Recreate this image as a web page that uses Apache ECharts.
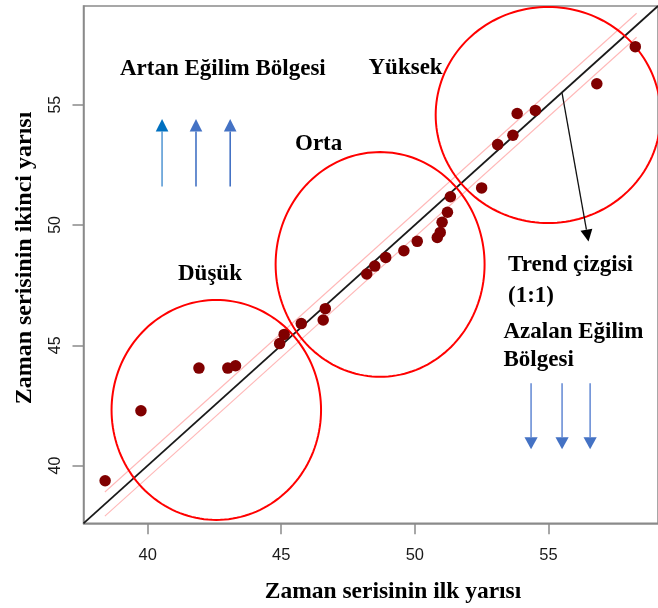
<!DOCTYPE html>
<html>
<head>
<meta charset="utf-8">
<script src="https://cdn.jsdelivr.net/npm/echarts@6/dist/echarts.min.js"></script>
<style>
html,body{margin:0;padding:0;background:#fff;}
#chart{width:658px;height:608px;}
</style>
</head>
<body>
<div id="chart"></div>
<script>
// ---- data ----
const xTickValues = [40, 45, 50, 55];
const yTickValues = [40, 45, 50, 55];
const axisRange = [37.6, 59.1];

// first half (x) and second half (y) of the time series
const firstHalf = [38.41, 39.75, 41.92, 43.00, 43.29, 44.94, 45.11, 45.75, 46.57, 46.65,
                   48.20, 48.50, 48.91, 49.59, 50.09, 50.84, 50.95, 51.02, 51.22, 51.33,
                   52.50, 53.10, 53.67, 53.83, 54.51, 56.81, 58.25];
const secondHalf = [39.37, 42.28, 44.05, 44.05, 44.15, 45.07, 45.45, 45.90, 46.05, 46.52,
                    47.96, 48.29, 48.65, 48.93, 49.32, 49.48, 49.69, 50.11, 50.53, 51.17,
                    51.54, 53.34, 53.73, 54.63, 54.76, 55.87, 57.41];

// 1:1 trend line and the two bands around it
const trendLineX = [37.6, 59.1];
const bandX = [38.4, 58.3];
const bandOffset = 0.5;

// group circles (centre and radii in data units)
const groupNames = ['Düşük', 'Orta', 'Yüksek'];
const groupCenterX = [42.57, 48.70, 54.99];
const groupCenterY = [42.31, 48.36, 54.57];
const groupRadiusX = [3.92, 3.91, 4.21];
const groupRadiusY = [4.57, 4.67, 4.49];

// arrows: [x start, y start, x tip, y tip]
const upArrows = [[40.54, 51.60, 40.54, 54.40], [41.81, 51.60, 41.81, 54.40], [43.09, 51.60, 43.09, 54.40]];
const downArrows = [[54.35, 43.42, 54.35, 40.68], [55.51, 43.42, 55.51, 40.68], [56.56, 43.42, 56.56, 40.68]];
const trendArrow = [[55.51, 55.48, 56.50, 49.31]];

// ---- styles ----
const upShaftColors = ['#5B9BD5', '#4472C4', '#4472C4'];
const upHeadColors = ['#0070C0', '#4472C4', '#4472C4'];
const serif = '"Liberation Serif", "Times New Roman", serif';
const sans = '"Liberation Sans", Arial, sans-serif';

const points = firstHalf.map((x, i) => [x, secondHalf[i]]);
const circles = groupNames.map((n, i) => [groupCenterX[i], groupCenterY[i], groupRadiusX[i], groupRadiusY[i]]);

function renderEllipse(params, api) {
  const c = api.coord([api.value(0), api.value(1)]);
  const s = api.size([api.value(2), api.value(3)]);
  const pts = [];
  for (let k = 0; k <= 160; k++) {
    const t = k / 160 * 2 * Math.PI;
    pts.push([c[0] + s[0] * Math.cos(t), c[1] + s[1] * Math.sin(t)]);
  }
  return { type: 'polyline', shape: { points: pts }, style: { fill: null, stroke: '#FF0000', lineWidth: 2 } };
}

function makeArrowRenderer(shaftColors, headColors, headLen, headHalf, width) {
  return function (params, api) {
    const p1 = api.coord([api.value(0), api.value(1)]);
    const p2 = api.coord([api.value(2), api.value(3)]);
    const dx = p2[0] - p1[0], dy = p2[1] - p1[1];
    const len = Math.sqrt(dx * dx + dy * dy);
    const ux = dx / len, uy = dy / len;
    const bx = p2[0] - ux * headLen, by = p2[1] - uy * headLen;
    const nx = -uy, ny = ux;
    const i = params.dataIndex;
    return {
      type: 'group',
      children: [
        { type: 'line', shape: { x1: p1[0], y1: p1[1], x2: bx, y2: by },
          style: { stroke: shaftColors[i % shaftColors.length], lineWidth: width } },
        { type: 'polygon', shape: { points: [[p2[0], p2[1]], [bx + nx * headHalf, by + ny * headHalf], [bx - nx * headHalf, by - ny * headHalf]] },
          style: { fill: headColors[i % headColors.length] } }
      ]
    };
  };
}

const chart = echarts.init(document.getElementById('chart'), null, { renderer: 'canvas' });

const axisColor = '#8a8a8a';

const option = {
  animation: false,
  backgroundColor: '#fff',
  grid: { left: 83.5, top: 6, width: 582.2, height: 517.3, show: true, borderColor: axisColor, borderWidth: 1.5, containLabel: false },
  xAxis: {
    type: 'value', min: axisRange[0], max: axisRange[1],
    axisLine: { show: true, onZero: false, lineStyle: { color: axisColor, width: 1.5 } },
    axisTick: { show: true, length: 11, customValues: xTickValues, lineStyle: { color: axisColor, width: 1.5 } },
    axisLabel: { show: true, customValues: xTickValues, margin: 24, fontSize: 16.5, color: '#1a1a1a', fontFamily: sans },
    splitLine: { show: false }
  },
  yAxis: {
    type: 'value', min: axisRange[0], max: axisRange[1],
    axisLine: { show: true, onZero: false, lineStyle: { color: axisColor, width: 1.5 } },
    axisTick: { show: true, length: 11, customValues: yTickValues, lineStyle: { color: axisColor, width: 1.5 } },
    axisLabel: { show: true, customValues: yTickValues, rotate: 90, margin: 20, fontSize: 16, color: '#1a1a1a', fontFamily: sans },
    splitLine: { show: false }
  },
  series: [
    { type: 'line', data: bandX.map(x => [x, x + bandOffset]), symbol: 'none', silent: true,
      lineStyle: { color: '#FFB8B8', width: 1.1 }, z: 1 },
    { type: 'line', data: bandX.map(x => [x, x - bandOffset]), symbol: 'none', silent: true,
      lineStyle: { color: '#FFB8B8', width: 1.1 }, z: 1 },
    { type: 'line', data: trendLineX.map(x => [x, x]), symbol: 'none', silent: true,
      lineStyle: { color: '#1a1a1a', width: 1.8 }, z: 2 },
    { type: 'custom', data: circles, renderItem: renderEllipse, encode: { x: 0, y: 1 }, silent: true, z: 3 },
    { type: 'custom', data: upArrows, renderItem: makeArrowRenderer(upShaftColors, upHeadColors, 12.5, 6.3, 1.6), encode: { x: 0, y: 1 }, silent: true, z: 3 },
    { type: 'custom', data: downArrows, renderItem: makeArrowRenderer(['#6B8FD6'], ['#4472C4'], 12, 6.6, 1.6), encode: { x: 0, y: 1 }, silent: true, z: 3 },
    { type: 'custom', data: trendArrow, renderItem: makeArrowRenderer(['#111'], ['#000'], 12, 6, 1.3), encode: { x: 0, y: 1 }, silent: true, z: 3 },
    { type: 'scatter', data: points, symbol: 'circle', symbolSize: 11.5,
      itemStyle: { color: '#800000', opacity: 1 }, z: 5 }
  ],
  graphic: [
    { type: 'text', x: 120, y: 69, style: { text: 'Artan Eğilim Bölgesi', font: 'bold 23px ' + serif, fill: '#000', textAlign: 'left', textVerticalAlign: 'middle', verticalAlign: 'middle' } },
    { type: 'text', x: 368.5, y: 68, style: { text: 'Yüksek', font: 'bold 23px ' + serif, fill: '#000', textAlign: 'left', textVerticalAlign: 'middle', verticalAlign: 'middle' } },
    { type: 'text', x: 295, y: 144, style: { text: 'Orta', font: 'bold 23px ' + serif, fill: '#000', textAlign: 'left', textVerticalAlign: 'middle', verticalAlign: 'middle' } },
    { type: 'text', x: 178, y: 274, style: { text: 'Düşük', font: 'bold 23px ' + serif, fill: '#000', textAlign: 'left', textVerticalAlign: 'middle', verticalAlign: 'middle' } },
    { type: 'text', x: 508, y: 265, style: { text: 'Trend çizgisi', font: 'bold 23px ' + serif, fill: '#000', textAlign: 'left', textVerticalAlign: 'middle', verticalAlign: 'middle' } },
    { type: 'text', x: 508, y: 296, style: { text: '(1:1)', font: 'bold 23px ' + serif, fill: '#000', textAlign: 'left', textVerticalAlign: 'middle', verticalAlign: 'middle' } },
    { type: 'text', x: 503.5, y: 332.5, style: { text: 'Azalan Eğilim', font: 'bold 23px ' + serif, fill: '#000', textAlign: 'left', textVerticalAlign: 'middle', verticalAlign: 'middle' } },
    { type: 'text', x: 503.5, y: 360.5, style: { text: 'Bölgesi', font: 'bold 23px ' + serif, fill: '#000', textAlign: 'left', textVerticalAlign: 'middle', verticalAlign: 'middle' } },
    { type: 'text', x: 393, y: 592, style: { text: 'Zaman serisinin ilk yarısı', font: 'bold 23.5px ' + serif, fill: '#000', textAlign: 'center', textVerticalAlign: 'middle', verticalAlign: 'middle' } },
    { type: 'text', x: 25, y: 258, rotation: Math.PI / 2, style: { text: 'Zaman serisinin ikinci yarısı', font: 'bold 24px ' + serif, fill: '#000', textAlign: 'center', textVerticalAlign: 'middle', verticalAlign: 'middle' } }
  ]
};
chart.setOption(option);
</script>
</body>
</html>
